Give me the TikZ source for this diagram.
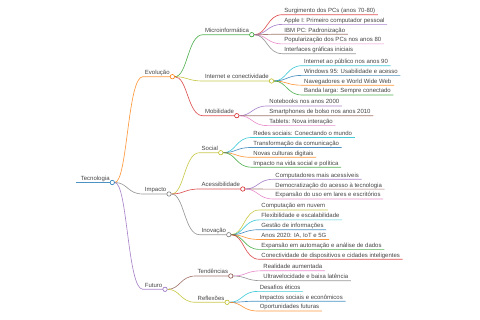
\documentclass[tikz,border=0pt]{standalone}
\usepackage{fontspec}
\setmainfont{Liberation Sans}
\usetikzlibrary{calc}
\pgfdeclarelayer{bg}
\pgfsetlayers{bg,main}
\definecolor{cB}{HTML}{1F77B4}
\definecolor{cO}{HTML}{FF7F0E}
\definecolor{cG}{HTML}{2CA02C}
\definecolor{cR}{HTML}{D62728}
\definecolor{cP}{HTML}{9467BD}
\definecolor{cBr}{HTML}{8C564B}
\definecolor{cPk}{HTML}{E377C2}
\definecolor{cGy}{HTML}{7F7F7F}
\definecolor{cOl}{HTML}{BCBD22}
\definecolor{cC}{HTML}{17BECF}
\definecolor{txtgray}{HTML}{444444}
\tikzset{
  txt/.style={inner sep=0pt, anchor=base west, font=\fontsize{6}{7}\selectfont, text=txtgray},
  dot/.style={circle, fill=white, inner sep=0pt, minimum size=4.4pt, line width=0.6pt},
  link/.style={line width=0.65pt, draw opacity=0.8},
}
% #1 name, #2 parent, #3 y, #4 colour, #5 text
\newcommand\mmbase[5]{%
  \path (#2) ++(30.5,0) coordinate (#1-x);
  \coordinate (#1-l) at (#1-x |- 0,#3);
  \node[txt] (#1-t) at ($(#1-l)+(2,-2)$) {#5};
  \coordinate (#1-r) at ($(#1-t.east |- #1-l)+(2.5,0)$);
  \coordinate (#1-m) at ($(#2)!0.5!(#1-l)$);
  \begin{pgfonlayer}{bg}
    \draw[link,#4] (#2) .. controls (#1-m |- #2) and (#1-m |- #1-l) .. (#1-l) -- (#1-r);
  \end{pgfonlayer}
}
\newcommand\mmbranch[5]{\mmbase{#1}{#2}{#3}{#4}{#5}\node[dot,draw=#4] (#1) at (#1-r) {};}
\newcommand\mmleaf[5]{\mmbase{#1}{#2}{#3}{#4}{#5}}
\begin{document}
\begin{tikzpicture}[x=1pt,y=-1pt]
\useasboundingbox (0,0) rectangle (480,320);
% root
\coordinate (root-l) at (76,182.5);
\node[txt] (root-t) at (80.7,180.5) {Tecnologia};
\coordinate (root-r) at ($(root-t.east |- root-l)+(2.5,0)$);
\begin{pgfonlayer}{bg}
  \draw[cB, line width=1.6pt, draw opacity=0.8] (root-l) -- (root-r);
\end{pgfonlayer}
\node[dot,draw=cB] (root) at (root-r) {};
% level 1
\mmbranch{evol}{root}{76.7}{cO}{Evolução}
\mmbranch{imp}{root}{194}{cGy}{Impacto}
\mmbranch{fut}{root}{289.3}{cP}{Futuro}
% level 2
\mmbranch{micro}{evol}{34.7}{cG}{Microinformática}
\mmbranch{inet}{evol}{81}{cOl}{Internet e conectividade}
\mmbranch{mob}{evol}{115.7}{cR}{Mobilidade}
\mmbranch{soc}{imp}{152.7}{cOl}{Social}
\mmbranch{acc}{imp}{189}{cR}{Acessibilidade}
\mmbranch{inov}{imp}{234.7}{cGy}{Inovação}
\mmbranch{tend}{fut}{276}{cBr}{Tendências}
\mmbranch{refl}{fut}{302.3}{cOl}{Reflexões}
% leaves
\mmleaf{m1}{micro}{14.7}{cR}{Surgimento dos PCs (anos 70-80)}
\mmleaf{m2}{micro}{24.4}{cP}{Apple I: Primeiro computador pessoal}
\mmleaf{m3}{micro}{34.2}{cBr}{IBM PC: Padronização}
\mmleaf{m4}{micro}{43.9}{cPk}{Popularização dos PCs nos anos 80}
\mmleaf{m5}{micro}{53.7}{cGy}{Interfaces gráficas iniciais}
\mmleaf{i1}{inet}{65.7}{cC}{Internet ao público nos anos 90}
\mmleaf{i2}{inet}{75.4}{cB}{Windows 95: Usabilidade e acesso}
\mmleaf{i3}{inet}{85.2}{cO}{Navegadores e World Wide Web}
\mmleaf{i4}{inet}{95}{cG}{Banda larga: Sempre conectado}
\mmleaf{b1}{mob}{106}{cP}{Notebooks nos anos 2000}
\mmleaf{b2}{mob}{115.8}{cBr}{Smartphones de bolso nos anos 2010}
\mmleaf{b3}{mob}{125.6}{cPk}{Tablets: Nova interação}
\mmleaf{s1}{soc}{137.5}{cC}{Redes sociais: Conectando o mundo}
\mmleaf{s2}{soc}{147.5}{cB}{Transformação da comunicação}
\mmleaf{s3}{soc}{157.3}{cO}{Novas culturas digitais}
\mmleaf{s4}{soc}{167.2}{cG}{Impacto na vida social e política}
\mmleaf{a1}{acc}{179.3}{cP}{Computadores mais acessíveis}
\mmleaf{a2}{acc}{189.1}{cBr}{Democratização do acesso à tecnologia}
\mmleaf{a3}{acc}{199}{cPk}{Expansão do uso em lares e escritórios}
\mmleaf{n1}{inov}{210}{cOl}{Computação em nuvem}
\mmleaf{n2}{inov}{219.9}{cC}{Flexibilidade e escalabilidade}
\mmleaf{n3}{inov}{229.7}{cB}{Gestão de informações}
\mmleaf{n4}{inov}{239.5}{cO}{Anos 2020: IA, IoT e 5G}
\mmleaf{n5}{inov}{249.4}{cG}{Expansão em automação e análise de dados}
\mmleaf{n6}{inov}{259.3}{cR}{Conectividade de dispositivos e cidades inteligentes}
\mmleaf{t1}{tend}{270.8}{cPk}{Realidade aumentada}
\mmleaf{t2}{tend}{280.7}{cGy}{Ultravelocidade e baixa latência}
\mmleaf{r1}{refl}{291.4}{cC}{Desafios éticos}
\mmleaf{r2}{refl}{301.2}{cB}{Impactos sociais e econômicos}
\mmleaf{r3}{refl}{311}{cO}{Oportunidades futuras}
\end{tikzpicture}
\end{document}
